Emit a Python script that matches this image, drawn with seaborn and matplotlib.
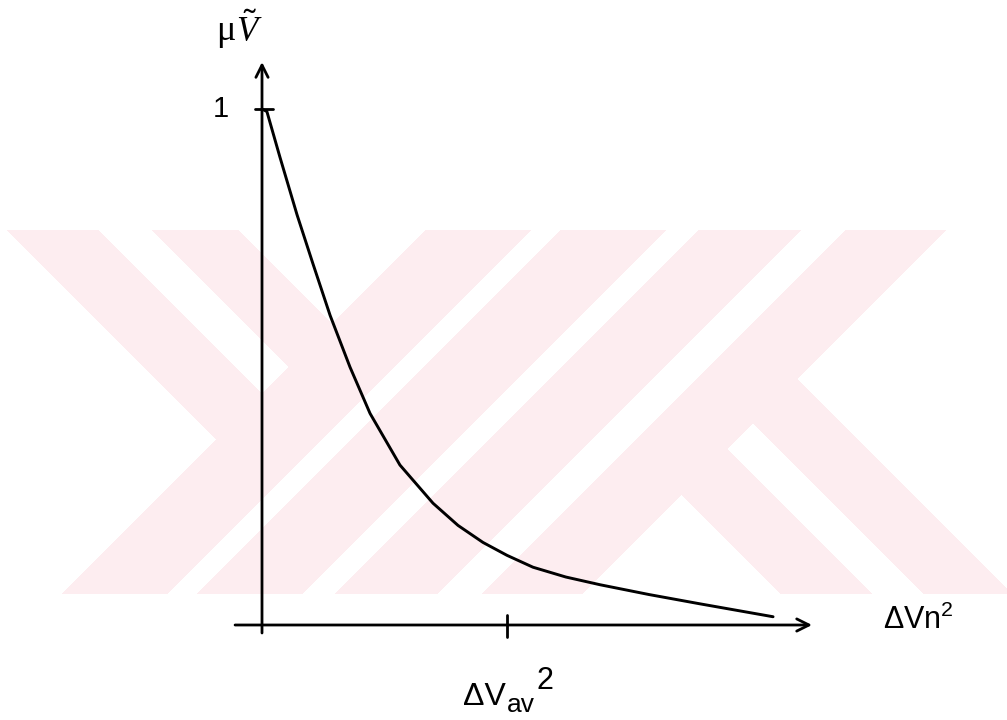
import numpy as np
import matplotlib
matplotlib.use("Agg")
import matplotlib.pyplot as plt
import seaborn as sns

# Membership value against ΔVn², abscissa in units of ΔVav²
dv_sq = [0.0, 0.02, 0.073, 0.143, 0.208, 0.278, 0.359, 0.441, 0.563, 0.698,
         0.80, 0.902, 1.0, 1.106, 1.24, 1.38, 1.58, 1.788, 2.086]
mu = [1.0, 0.995, 0.907, 0.795, 0.700, 0.600, 0.500, 0.410, 0.310, 0.236,
      0.193, 0.160, 0.135, 0.112, 0.093, 0.078, 0.059, 0.041, 0.016]
x_ticks = [1.0]
y_ticks = [1.0]
y_tick_labels = ["1"]
x_axis_label = r"$\mathrm{\Delta Vn^{2}}$"
y_axis_symbol = "μ"
y_axis_subscript = r"$\tilde{V}$"

sns.set_theme(style="white")
plt.rcParams["font.family"] = ["Liberation Sans", "DejaVu Sans"]
plt.rcParams["text.color"] = "black"
plt.rcParams["mathtext.fontset"] = "custom"
plt.rcParams["mathtext.rm"] = "Liberation Sans"
plt.rcParams["mathtext.it"] = "Liberation Serif:italic"

W, H, DPI = 1007, 720, 100
fig = plt.figure(figsize=(W / DPI, H / DPI), dpi=DPI)
fig.patch.set_facecolor("white")

# light diagonal band emblem in the background
yy, xx = np.mgrid[0:H, 0:W].astype(float)
s = xx + yy
d = xx - yy
inside = (yy >= 230) & (yy <= 593)
diag_up = ((s >= 655) & (s <= 760)) | ((s >= 790) & (s <= 895)) | \
          ((s >= 928) & (s <= 1030)) | ((s >= 1075) & (s <= 1175))
diag_down = ((d >= -223) & (d <= -132) & (s <= 760)) | \
            ((d >= -78) & (d <= 8) & (s <= 760)) | \
            ((d >= 187) & (d <= 278) & (s >= 1120)) | \
            ((d >= 330) & (d <= 418) & (s >= 1120))
band = inside & (diag_up | diag_down)
rgba = np.ones((H, W, 4))
rgba[..., 0] = np.where(band, 253 / 255, 1.0)
rgba[..., 1] = np.where(band, 237 / 255, 1.0)
rgba[..., 2] = np.where(band, 240 / 255, 1.0)
fig.figimage(rgba, 0, 0, origin="upper", zorder=-5)

ax = fig.add_axes([0, 0, 1, 1])
ax.set_facecolor("none")
ax.patch.set_alpha(0)
ax.set_zorder(2)
ax.set_xlim(-1.0694, 3.0408)
ax.set_ylim(-0.1841, 1.2112)
ax.axis("off")

sns.lineplot(x=dv_sq, y=mu, color="black", lw=2.1, ax=ax, sort=True)

arrow = dict(arrowstyle="->", lw=2.0, color="black", mutation_scale=22,
             shrinkA=0, shrinkB=0)
ax.annotate("", xy=(0, 1.091), xytext=(0, -0.0155), arrowprops=arrow)
ax.annotate("", xy=(2.245, 0), xytext=(-0.110, 0), arrowprops=arrow)

# tick on the abscissa with label ΔV_av²
for xt in x_ticks:
    ax.plot([xt, xt], [-0.023, 0.019], color="black", lw=2.0)
    base = ax.text(xt - 0.18, -0.155, "ΔV", fontsize=23, ha="left",
                   va="baseline")
    sub = ax.annotate("av", xy=(1, 0), xycoords=base, xytext=(1, -5),
                      textcoords="offset pixels", fontsize=19,
                      ha="left", va="bottom")
    ax.annotate("2", xy=(1, 0), xycoords=sub, xytext=(2, 21),
                textcoords="offset pixels", fontsize=22,
                ha="left", va="bottom")

for yt, lab in zip(y_ticks, y_tick_labels):
    ax.plot([-0.029, 0.045], [yt, yt], color="black", lw=2.0)
    ax.text(-0.135, yt, lab, fontsize=21, ha="right", va="center")

ax.text(2.535, -0.008, x_axis_label, fontsize=22, ha="left", va="baseline")

ax.text(-0.110, 1.134, y_axis_symbol, fontsize=26,
        family=["Liberation Serif", "DejaVu Serif"], ha="right", va="baseline")
ax.text(-0.106, 1.13, y_axis_subscript, fontsize=25, ha="left", va="baseline")

fig.savefig("out.png", dpi=DPI)
